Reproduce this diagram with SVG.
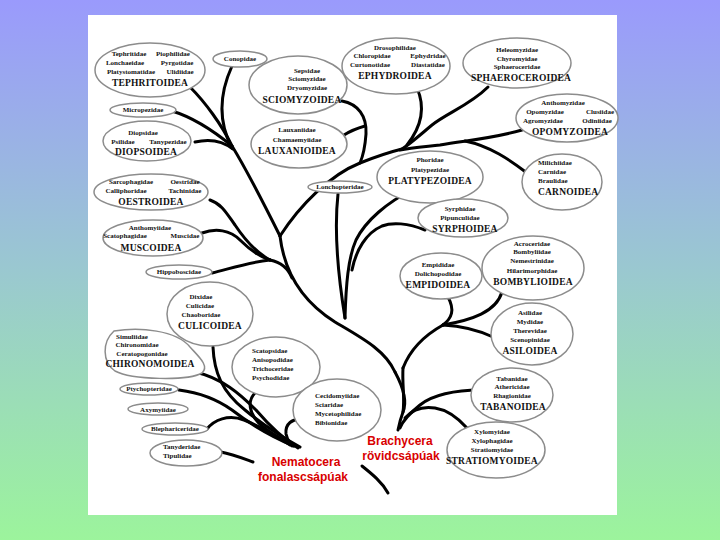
<svg xmlns="http://www.w3.org/2000/svg" width="720" height="540" viewBox="0 0 720 540">
<defs>
<linearGradient id="bg" x1="0" y1="0" x2="0" y2="1">
<stop offset="0" stop-color="#9a9afc"/>
<stop offset="0.5" stop-color="#9ac8d0"/>
<stop offset="1" stop-color="#9cf49c"/>
</linearGradient>
<style>
.e{fill:#fff;stroke:#8c8c8c;stroke-width:1.5}
.f{font-family:"Liberation Serif","Times New Roman",serif;font-size:7px;font-weight:bold;text-anchor:middle;fill:#111}
.fl{font-family:"Liberation Serif","Times New Roman",serif;font-size:7px;font-weight:bold;fill:#111}
.s{font-family:"Liberation Serif","Times New Roman",serif;font-size:9.5px;font-weight:bold;text-anchor:middle;fill:#111;letter-spacing:0.2px}
.sl{font-family:"Liberation Serif","Times New Roman",serif;font-size:9.5px;font-weight:bold;fill:#111;letter-spacing:0.2px}
.r{font-family:"Liberation Sans",Arial,sans-serif;font-size:12px;font-weight:bold;fill:#d80000;text-anchor:middle}
.c{fill:none;stroke:#000;stroke-width:3;stroke-linecap:round;stroke-linejoin:round}
</style>
</defs>
<rect x="0" y="0" width="720" height="540" fill="url(#bg)"/>
<rect x="88" y="15" width="529" height="500" fill="#fff"/>

<g id="connectors" class="c">
<!-- left acalyptrate fan -->
<path d="M190,87 C205,102 222,125 232,146"/>
<path d="M232,66 C222,88 216,118 232,148"/>
<path d="M172,111 C195,118 215,132 232,146"/>
<path d="M195,142 C212,138 224,142 233,149"/>
<path d="M232,146 C248,172 262,200 280,236"/>
<!-- right acalyptrate fan -->
<path d="M280,236 C300,205 330,175 360,163 C375,157 390,152 402,149"/>
<path d="M522,130 C495,138 470,140 440,145 C422,147 410,148 400,150"/>
<path d="M527,173 C510,160 490,146 465,141"/>
<path d="M488,87 C470,105 447,113 432,125 C420,135 410,144 402,149"/>
<path d="M417,88 C425,106 422,126 407,145"/>
<path d="M342,101 C358,104 367,116 366,134 C365,148 363,156 360,163"/>
<path d="M344,135 C352,130 358,128 365,126"/>
<!-- calyptratae -->
<path d="M210,200 C222,204 227,214 235,225 C245,240 255,252 270,260"/>
<path d="M202,233 C216,228 230,230 240,240 C250,250 258,256 270,260"/>
<path d="M212,273 C232,268 250,262 270,260"/>
<path d="M270,260 C280,262 288,268 292,278"/>
<!-- cyclorrhapha trunk -->
<path d="M280,236 C284,270 300,300 335,322 C362,338 385,350 395,372"/>
<path d="M338,194 C334,230 338,275 345,318"/>
<path d="M412,190 C388,202 366,220 356,240 C348,258 346,285 345,318"/>
<path d="M425,230 C408,223 392,222 382,226 C366,233 356,250 352,270"/>
<!-- orthorrhapha -->
<path d="M448,297 C455,310 452,318 443,325"/>
<path d="M502,292 C496,312 472,320 443,325"/>
<path d="M493,337 C478,330 462,326 443,325"/>
<path d="M443,325 C425,335 410,350 403,368"/>
<path d="M395,372 C402,385 408,400 403,412 C400,420 399,425 398,430"/>
<path d="M403,368 C402,385 405,398 403,412"/>
<path d="M480,390 C455,390 432,395 420,405 C410,413 403,420 400,428"/>
<path d="M467,428 C458,418 448,410 435,408 C422,406 412,410 405,418"/>
<path d="M362,466 C372,474 382,482 388,493"/>
<!-- nematocera -->
<path d="M213,347 C214,372 222,392 245,410 C262,424 280,436 300,447"/>
<path d="M195,372 C222,378 240,394 256,410 C268,424 282,438 298,448"/>
<path d="M179,390 C202,393 218,400 232,410 C250,424 270,436 294,446"/>
<path d="M207,429 C214,420 228,414 244,420 C262,427 280,438 294,446"/>
<path d="M221,452 C232,454 242,458 253,462"/>
<path d="M256,392 C247,400 248,414 262,426 C272,434 282,440 290,445"/>
<path d="M303,420 C292,418 285,424 286,434 C287,440 290,443 292,446"/>
</g>

<g id="tephritoidea"><ellipse class="e" cx="150" cy="70" rx="55" ry="27"/>
<text class="f" x="129" y="56">Tephritidae</text><text class="f" x="173" y="56">Piophilidae</text>
<text class="f" x="125" y="65">Lonchaeidae</text><text class="f" x="177" y="65">Pyrgotidae</text>
<text class="f" x="131" y="74">Platystomatidae</text><text class="f" x="180" y="74">Ulidiidae</text>
<text class="s" x="150" y="86">TEPHRITOIDEA</text></g>

<g id="conopidae"><ellipse class="e" cx="240" cy="59" rx="27" ry="8"/><text class="f" x="240" y="61">Conopidae</text></g>
<g id="micropezidae"><ellipse class="e" cx="143" cy="110" rx="33" ry="7"/><text class="f" x="143" y="112">Micropezidae</text></g>

<g id="diopsoidea"><ellipse class="e" cx="147" cy="141" rx="44" ry="20"/>
<text class="f" x="143" y="135">Diopsidae</text>
<text class="f" x="123" y="144">Psilidae</text><text class="f" x="168" y="144">Tanypezidae</text>
<text class="s" x="146" y="155">DIOPSOIDEA</text></g>

<g id="oestroidea"><ellipse class="e" cx="151" cy="192" rx="57" ry="18"/>
<text class="f" x="131" y="184">Sarcophagidae</text><text class="f" x="185" y="184">Oestridae</text>
<text class="f" x="126" y="193">Calliphoridae</text><text class="f" x="185" y="193">Tachinidae</text>
<text class="s" x="151" y="205">OESTROIDEA</text></g>

<g id="muscoidea"><ellipse class="e" cx="153" cy="238" rx="50" ry="18"/>
<text class="f" x="150" y="230">Anthomyiidae</text>
<text class="f" x="125" y="238">Scatophagidae</text><text class="f" x="185" y="238">Muscidae</text>
<text class="s" x="151" y="251">MUSCOIDEA</text></g>

<g id="hippoboscidae"><ellipse class="e" cx="179" cy="272" rx="33" ry="7"/><text class="f" x="179" y="274">Hippoboscidae</text></g>

<g id="culicoidea"><ellipse class="e" cx="210" cy="314" rx="43" ry="32"/>
<text class="f" x="201" y="299">Dixidae</text><text class="f" x="200" y="308">Culicidae</text><text class="f" x="201" y="317">Chaoboridae</text>
<text class="s" x="210" y="329">CULICOIDEA</text></g>

<g id="chironomoidea"><path class="e" d="M114,331 C140,327 176,330 190,347 C198,356 210,366 202,373 C188,381 132,380 115,371 C102,362 102,342 114,331 Z"/>
<text class="f" x="132" y="339">Simuliidae</text><text class="f" x="137" y="347">Chironomidae</text><text class="f" x="142" y="356">Ceratopogonidae</text>
<text class="s" x="150" y="367">CHIRONOMOIDEA</text></g>

<g id="ptychopteridae"><ellipse class="e" cx="149" cy="389" rx="29" ry="6"/><text class="f" x="149" y="391">Ptychopteridae</text></g>
<g id="axymyiidae"><ellipse class="e" cx="158" cy="409" rx="30" ry="6"/><text class="f" x="158" y="412">Axymyiidae</text></g>
<g id="blephariceridae"><ellipse class="e" cx="175" cy="429" rx="33" ry="6"/><text class="f" x="175" y="431">Blephariceridae</text></g>
<g id="tanyderidae"><ellipse class="e" cx="186" cy="453" rx="36" ry="13"/>
<text class="fl" x="163" y="449">Tanyderidae</text><text class="fl" x="163" y="458">Tipulidae</text></g>

<g id="scatopsidae"><ellipse class="e" cx="276" cy="367" rx="44" ry="30"/>
<text class="fl" x="252" y="353">Scatopsidae</text><text class="fl" x="252" y="362">Anisopodidae</text><text class="fl" x="252" y="371">Trichoceridae</text><text class="fl" x="252" y="380">Psychodidae</text></g>

<g id="cecidomyiidae"><ellipse class="e" cx="337" cy="410" rx="44" ry="31"/>
<text class="fl" x="315" y="398">Cecidomyiidae</text><text class="fl" x="315" y="407">Sciaridae</text><text class="fl" x="315" y="416">Mycetophilidae</text><text class="fl" x="315" y="425">Bibionidae</text></g>

<g id="sciomyzoidea"><ellipse class="e" cx="298" cy="85" rx="49" ry="29"/>
<text class="f" x="307" y="73">Sepsidae</text><text class="f" x="307" y="81">Sciomyzidae</text><text class="f" x="307" y="90">Dryomyzidae</text>
<text class="s" x="302" y="103">SCIOMYZOIDEA</text></g>

<g id="ephydroidea"><ellipse class="e" cx="396" cy="66" rx="54" ry="28"/>
<text class="f" x="395" y="50">Drosophilidae</text>
<text class="f" x="372" y="58">Chloropidae</text><text class="f" x="428" y="58">Ephydridae</text>
<text class="f" x="370" y="67">Curtonotidae</text><text class="f" x="428" y="67">Diastatidae</text>
<text class="s" x="395" y="79">EPHYDROIDEA</text></g>

<g id="sphaeroceroidea"><ellipse class="e" cx="517" cy="63" rx="54" ry="25"/>
<text class="f" x="517" y="52">Heleomyzidae</text><text class="f" x="517" y="61">Chyromyidae</text><text class="f" x="517" y="69">Sphaeroceridae</text>
<text class="s" x="521" y="81">SPHAEROCEROIDEA</text></g>

<g id="opomyzoidea"><ellipse class="e" cx="567" cy="118" rx="51" ry="24"/>
<text class="f" x="563" y="105">Anthomyzidae</text>
<text class="f" x="545" y="114">Opomyzidae</text><text class="f" x="600" y="114">Clusiidae</text>
<text class="f" x="543" y="123">Agromyzidae</text><text class="f" x="597" y="123">Odiniidae</text>
<text class="s" x="570" y="135">OPOMYZOIDEA</text></g>

<g id="lauxanioidea"><ellipse class="e" cx="299" cy="144" rx="48" ry="24"/>
<text class="f" x="297" y="132">Lauxaniidae</text><text class="f" x="297" y="142">Chamaemyiidae</text>
<text class="s" x="297" y="154">LAUXANIOIDEA</text></g>

<g id="lonchopteridae"><ellipse class="e" cx="340" cy="187" rx="32" ry="6"/><text class="f" x="340" y="189">Lonchopteridae</text></g>

<g id="platypezoidea"><ellipse class="e" cx="430" cy="177" rx="53" ry="26"/>
<text class="f" x="430" y="162">Phoridae</text><text class="f" x="430" y="172">Platypezidae</text>
<text class="s" x="430" y="184">PLATYPEZOIDEA</text></g>

<g id="carnoidea"><ellipse class="e" cx="562" cy="182" rx="40" ry="28"/>
<text class="fl" x="538" y="165">Milichiidae</text><text class="fl" x="538" y="174">Carnidae</text><text class="fl" x="538" y="183">Braulidae</text>
<text class="sl" x="538" y="195">CARNOIDEA</text></g>

<g id="syrphoidea"><ellipse class="e" cx="463" cy="218" rx="45" ry="19"/>
<text class="f" x="460" y="211">Syrphidae</text><text class="f" x="460" y="220">Pipunculidae</text>
<text class="s" x="465" y="232">SYRPHOIDEA</text></g>

<g id="bombylioidea"><ellipse class="e" cx="533" cy="268" rx="51" ry="32"/>
<text class="f" x="532" y="246">Acroceridae</text><text class="f" x="532" y="254">Bombyliidae</text><text class="f" x="532" y="263">Nemestrinidae</text><text class="f" x="532" y="273">Hilarimorphidae</text>
<text class="s" x="533" y="285">BOMBYLIOIDEA</text></g>

<g id="empidoidea"><ellipse class="e" cx="441" cy="276" rx="41" ry="23"/>
<text class="f" x="438" y="267">Empididae</text><text class="f" x="438" y="276">Dolichopodidae</text>
<text class="s" x="438" y="288">EMPIDOIDEA</text></g>

<g id="asiloidea"><ellipse class="e" cx="532" cy="334" rx="41" ry="31"/>
<text class="f" x="530" y="315">Asilidae</text><text class="f" x="530" y="324">Mydidae</text><text class="f" x="530" y="333">Therevidae</text><text class="f" x="530" y="342">Scenopinidae</text>
<text class="s" x="530" y="354">ASILOIDEA</text></g>

<g id="tabanoidea"><ellipse class="e" cx="512" cy="395" rx="41" ry="27"/>
<text class="f" x="512" y="381">Tabanidae</text><text class="f" x="512" y="389">Athericidae</text><text class="f" x="512" y="398">Rhagionidae</text>
<text class="s" x="513" y="410">TABANOIDEA</text></g>

<g id="stratiomyoidea"><ellipse class="e" cx="496" cy="450" rx="49" ry="28"/>
<text class="f" x="492" y="434">Xylomyidae</text><text class="f" x="492" y="443">Xylophagidae</text><text class="f" x="492" y="452">Stratiomyidae</text>
<text class="s" x="492" y="464">STRATIOMYOIDEA</text></g>

<g id="brachycera"><text class="r" x="400" y="445">Brachycera</text><text class="r" x="401" y="460">rövidcsápúak</text></g>
<g id="nematocera"><text class="r" x="306" y="466">Nematocera</text><text class="r" x="303" y="481">fonalascsápúak</text></g>
</svg>
